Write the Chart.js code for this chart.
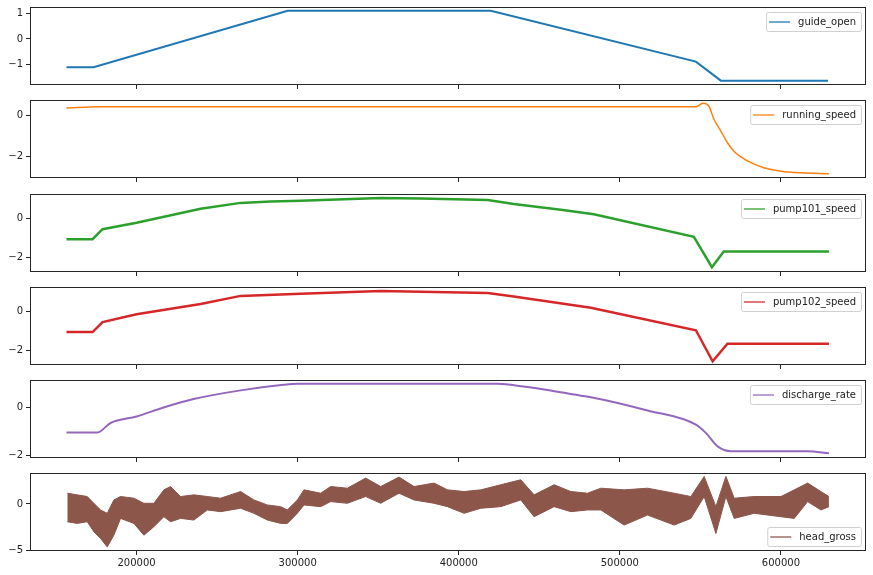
<!DOCTYPE html>
<html>
<head>
<meta charset="utf-8">
<title>Turbine signals</title>
<script src="https://cdn.jsdelivr.net/npm/chart.js"></script>
<style>
  body { margin: 0; background: #fff; width: 873px; height: 575px; overflow: hidden; position: relative; }
  canvas { position: absolute; left: 0; }
</style>
</head>
<body>
<script>
// shared x axis
const xTicks = [200000, 300000, 400000, 500000, 600000];
const xMin = 133850, xMax = 652800;

// guide_open
const guideX = [156500, 173300, 293800, 419900, 547200, 562700, 629200];
const guideY = [-1.1, -1.1, 1.1, 1.1, -0.88, -1.62, -1.62];

// running_speed
const runX = [156500, 177600, 300000, 547200, 551500, 555200, 558400, 562700, 566800, 570800, 579500, 589400, 600000, 612400, 629800];
const runY = [0.36, 0.41, 0.41, 0.41, 0.58, 0.45, -0.19, -0.76, -1.32, -1.73, -2.21, -2.53, -2.69, -2.77, -2.81];

// pump101_speed
const p101X = [156500, 172700, 178900, 200000, 239750, 264600, 283200, 301900, 351550, 376400, 418000, 434150, 463350, 483850, 545950, 557150, 564500, 629800];
const p101Y = [-1.06, -1.06, -0.55, -0.23, 0.48, 0.78, 0.85, 0.89, 1.03, 1.0, 0.92, 0.72, 0.43, 0.2, -0.94, -2.48, -1.68, -1.68];

// pump102_speed
const p102X = [156500, 172700, 178900, 200000, 239750, 264600, 301900, 351550, 418000, 434150, 482000, 547200, 557600, 566800, 629800];
const p102Y = [-1.05, -1.05, -0.55, -0.15, 0.37, 0.78, 0.89, 1.03, 0.92, 0.75, 0.18, -0.96, -2.53, -1.64, -1.64];

// discharge_rate
const disX = [156500, 175800, 183850, 200000, 216770, 235400, 264600, 291300, 300000, 424000, 440350, 455100, 475750, 482000, 517200, 547200, 553350, 560700, 568900, 600000, 616600, 629800];
const disY = [-1.05, -1.05, -0.66, -0.39, -0.02, 0.33, 0.69, 0.92, 0.96, 0.96, 0.85, 0.71, 0.47, 0.41, -0.14, -0.73, -1.07, -1.63, -1.83, -1.83, -1.83, -1.91];

// head_gross (noisy band: upper and lower envelope)
const headX = [157000, 163170, 169380, 173480, 177640, 181800, 185900, 190060, 198320, 204530,
  210750, 216960, 221120, 227330, 235590, 243910, 252170, 264590, 272850, 281180,
  289440, 293600, 299810, 303910, 314280, 320490, 330860, 342230, 351550, 362920,
  372240, 384660, 392980, 403290, 413660, 426080, 438500, 446770, 459190, 469560,
  479930, 488190, 502660, 517190, 533720, 544080, 552350, 559620, 565830, 570980,
  583410, 600000, 608260, 616580, 624820, 629800];
const headHigh = [1.16, 0.98, 0.8, 0.07, -0.65, -1.01, 0.43, 0.8, 0.62, 0.07,
  0.07, 1.52, 1.88, 0.8, 0.98, 0.8, 0.62, 1.34, 0.43, -0.11,
  -0.29, -0.65, 0.43, 1.52, 1.16, 1.88, 1.7, 2.79, 1.88, 2.9,
  1.88, 2.25, 1.52, 1.34, 1.52, 2.07, 2.61, 0.98, 2.07, 1.34,
  1.16, 1.7, 1.52, 1.7, 1.16, 0.8, 2.97, -0.29, 2.97, 0.62,
  0.8, 0.8, 1.52, 2.25, 1.34, 0.8];
const headLow = [-1.92, -2.1, -1.92, -3.0, -3.73, -4.64, -3.37, -1.56, -2.1, -3.37,
  -2.46, -1.38, -1.92, -1.56, -1.74, -0.65, -0.83, -0.47, -1.01, -1.74,
  -2.1, -2.1, -1.01, -0.11, -0.29, 0.25, 0.07, 0.8, 0.07, 1.16,
  0.43, 0.07, -0.29, -1.01, -0.47, -0.29, 0.43, -1.38, -0.29, -0.83,
  -0.65, -0.65, -2.28, -1.2, -2.28, -1.56, 0.8, -3.19, 0.8, -1.56,
  -1.01, -1.38, -1.56, 0.25, -0.65, -0.29];

function pts(xs, ys) { return xs.map((x, i) => ({ x: x, y: ys[i] })); }

// frame + matplotlib-like legend drawn inside the axes
const panelPlugin = {
  id: 'panel',
  afterDatasetsDraw(chart, args, opts) {
    const a = chart.chartArea, ctx = chart.ctx;
    ctx.save();
    ctx.strokeStyle = '#262626';
    ctx.lineWidth = 1;
    ctx.strokeRect(Math.round(a.left) + 0.5, Math.round(a.top) + 0.5,
      Math.round(a.right - a.left) - 1, Math.round(a.bottom - a.top) - 1);

    ctx.font = '10px "DejaVu Sans"';
    const tw = ctx.measureText(opts.label).width;
    const w = 4 + 20 + 8 + tw + 5, h = 19;
    const bx = a.right - 5 - w;
    const by = opts.where === 'bottom' ? a.bottom - 5 - h : a.top + 5;
    ctx.beginPath();
    ctx.roundRect(bx + 0.5, by + 0.5, w, h, 2);
    ctx.fillStyle = 'rgba(255,255,255,0.8)';
    ctx.fill();
    ctx.strokeStyle = '#d0d0d0';
    ctx.stroke();
    ctx.beginPath();
    ctx.strokeStyle = opts.color;
    ctx.globalAlpha = 0.85;
    ctx.lineWidth = 1.5;
    ctx.moveTo(bx + 3, by + h / 2 + 0.5);
    ctx.lineTo(bx + 24, by + h / 2 + 0.5);
    ctx.stroke();
    ctx.globalAlpha = 1;
    ctx.fillStyle = '#222';
    ctx.textBaseline = 'middle';
    ctx.fillText(opts.label, bx + 32, by + h / 2 + 1);
    ctx.restore();
  }
};

function makePanel(top, datasets, yMin, yMax, yTicks, label, color, where, last) {
  const plotH = 78, padTop = 10, axisH = last ? 24 : 10;
  const cv = document.createElement('canvas');
  cv.width = 873;
  cv.height = padTop + plotH + axisH;
  cv.style.top = (top - padTop) + 'px';
  document.body.appendChild(cv);
  new Chart(cv.getContext('2d'), {
    type: 'line',
    data: { datasets: datasets },
    plugins: [panelPlugin],
    options: {
      responsive: false,
      animation: false,
      layout: { padding: { top: padTop, right: 7, left: 0, bottom: 0 } },
      elements: { point: { radius: 0 }, line: { tension: 0 } },
      plugins: {
        legend: { display: false },
        tooltip: { enabled: false },
        panel: { label: label, color: color, where: where }
      },
      scales: {
        x: {
          type: 'linear', min: xMin, max: xMax,
          border: { display: false },
          grid: { drawOnChartArea: false, drawTicks: true, tickLength: 4, color: '#262626' },
          ticks: {
            display: last, color: '#222', padding: 2,
            font: { family: 'DejaVu Sans', size: 10 },
            callback: v => String(v)
          },
          afterBuildTicks: s => { s.ticks = xTicks.map(v => ({ value: v })); },
          afterFit: s => { s.height = axisH; }
        },
        y: {
          min: yMin, max: yMax,
          border: { display: false },
          grid: { drawOnChartArea: false, drawTicks: true, tickLength: 4, color: '#262626' },
          ticks: {
            color: '#222', padding: 3,
            font: { family: 'DejaVu Sans', size: 10 },
            callback: v => String(v).replace('-', '\u2212')
          },
          afterBuildTicks: s => { s.ticks = yTicks.map(v => ({ value: v })); },
          afterFit: s => { s.width = 30; }
        }
      }
    }
  });
}

function line(xs, ys, color, width, mode) {
  return {
    data: pts(xs, ys), borderColor: color, borderWidth: width, fill: false,
    cubicInterpolationMode: mode || 'default'
  };
}

makePanel(7, [line(guideX, guideY, '#1f77b4', 2)], -1.79, 1.245, [-1, 0, 1], 'guide_open', '#1f77b4', 'top', false);
makePanel(100, [line(runX, runY, '#ff7f0e', 1.5, 'monotone')], -3.02, 0.74, [-2, 0], 'running_speed', '#ff7f0e', 'top', false);
makePanel(194, [line(p101X, p101Y, '#2ca02c', 2.5)], -2.72, 1.23, [-2, 0], 'pump101_speed', '#2ca02c', 'top', false);
makePanel(287, [line(p102X, p102Y, '#d62728', 2.5)], -2.72, 1.23, [-2, 0], 'pump102_speed', '#d62728', 'top', false);
makePanel(380, [line(disX, disY, '#9467bd', 2, 'monotone')], -2.11, 1.12, [-2, 0], 'discharge_rate', '#9467bd', 'top', false);
makePanel(473, [
  { data: pts(headX, headHigh), borderColor: '#8c564b', borderWidth: 1, backgroundColor: '#8c564b', fill: '+1' },
  { data: pts(headX, headLow), borderColor: '#8c564b', borderWidth: 1, fill: false }
], -5.08, 3.34, [-5, 0], 'head_gross', '#8c564b', 'bottom', true);
</script>
</body>
</html>
